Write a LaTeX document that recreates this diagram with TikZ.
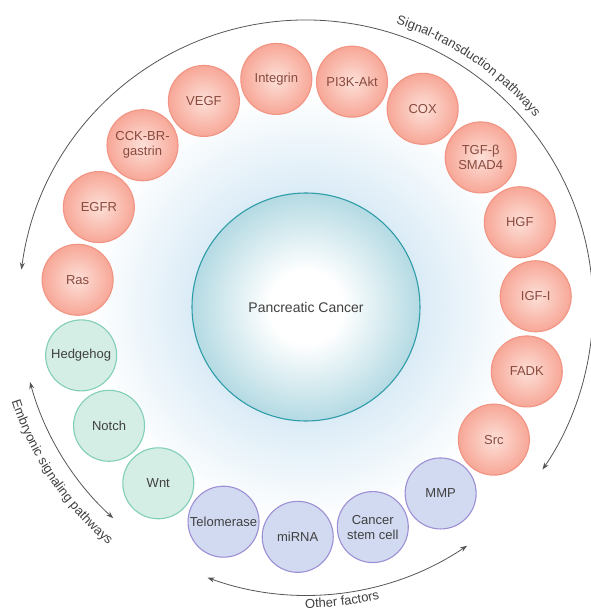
\documentclass[tikz,border=0pt]{standalone}
\usepackage{fontspec}
\setmainfont{Liberation Sans}
\usetikzlibrary{arrows.meta,decorations.text}
\definecolor{sigline}{HTML}{F29483}
\definecolor{sigin}{HTML}{FDE0D8}
\definecolor{sigout}{HTML}{F7A797}
\definecolor{sigtext}{HTML}{8A4A3E}
\definecolor{embline}{HTML}{82CFB8}
\definecolor{embfill}{HTML}{D4EDE5}
\definecolor{othline}{HTML}{9C8FD4}
\definecolor{othfill}{HTML}{D2DAF1}
\definecolor{pcline}{HTML}{2E9CA9}
\definecolor{pcfill}{HTML}{B4DAE3}
\definecolor{glowblue}{HTML}{DAEBF6}
\definecolor{labelgray}{HTML}{404040}
\definecolor{arcgray}{HTML}{555555}
% path radius = 25bp in these shadings
\pgfdeclareradialshading{sigball}{\pgfpoint{0bp}{0bp}}{color(0bp)=(sigin); color(25bp)=(sigout); color(50bp)=(sigout)}
\pgfdeclareradialshading{pcball}{\pgfpoint{0bp}{0bp}}{color(0bp)=(white); color(8bp)=(white); color(25bp)=(pcfill); color(50bp)=(pcfill)}
\pgfdeclareradialshading{glow}{\pgfpoint{0bp}{0bp}}{color(0bp)=(glowblue); color(13bp)=(glowblue); color(25bp)=(white); color(50bp)=(white)}
\newcommand\labfont{\fontsize{13}{15}\selectfont}
\newcommand\arcfont{\fontsize{13}{15}\selectfont}
\begin{document}
\begin{tikzpicture}[x=1pt,y=1pt,>={Stealth[length=7pt,width=5pt]},
  ball/.style={circle,minimum size=71pt,inner sep=0pt,align=center,line width=1.1pt,font=\labfont},
  sigcirc/.style={ball,shade,shading=sigball,draw=sigline,text=sigtext},
  embcirc/.style={ball,fill=embfill,draw=embline,text=labelgray},
  othcirc/.style={ball,fill=othfill,draw=othline,text=labelgray},
  pathway/.style={draw=arcgray,line width=0.8pt,<->}]
\useasboundingbox (-306,-303) rectangle (284,307);
% soft glow and the centre
\shade[shading=glow] (0,0) circle (215);
\node[circle,minimum size=228pt,inner sep=0pt,shade,shading=pcball,draw=pcline,line width=1.1pt,
  text=labelgray,font=\fontsize{14}{16}\selectfont] (pc) at (0,0) {Pancreatic Cancer};
% ring of factors, 19 at equal steps
\foreach \n/\l/\s [count=\i from 0] in {ras/Ras/sigcirc,egfr/EGFR/sigcirc,cck/CCK-BR-\\gastrin/sigcirc,
  vegf/VEGF/sigcirc,integrin/Integrin/sigcirc,pik/PI3K-Akt/sigcirc,cox/COX/sigcirc,tgf/TGF-β\\SMAD4/sigcirc,
  hgf/HGF/sigcirc,igf/IGF-I/sigcirc,fadk/FADK/sigcirc,src/Src/sigcirc,mmp/MMP/othcirc,
  csc/Cancer\\stem cell/othcirc,mirna/miRNA/othcirc,telo/Telomerase/othcirc,
  wnt/Wnt/embcirc,notch/Notch/embcirc,hedge/Hedgehog/embcirc}
  \node[\s] (\n) at ({173.2-\i*360/19}:230) {\l};
% pathway arcs with their labels
\draw[pathway] (172.5:287) arc[start angle=172.5,end angle=-34.5,radius=287];
\path[decorate,decoration={text along path,text align=center,
  text={|\arcfont\color{labelgray}|Signal-transduction pathways}}]
  (80:297) arc[start angle=80,end angle=32,radius=297];
\draw[pathway] (-164.8:286) arc[start angle=-164.8,end angle=-132.4,radius=286];
\path[decorate,decoration={text along path,text align=center,
  text={|\arcfont\color{labelgray}|Embryonic signaling pathways}}]
  (-170:309) arc[start angle=-170,end angle=-122,radius=309];
\draw[pathway] (-110:288) arc[start angle=-110,end angle=-56,radius=288];
\path[decorate,decoration={text along path,text align=center,
  text={|\arcfont\color{labelgray}|Other factors}}]
  (-107:301) arc[start angle=-107,end angle=-59,radius=301];
\end{tikzpicture}
\end{document}
